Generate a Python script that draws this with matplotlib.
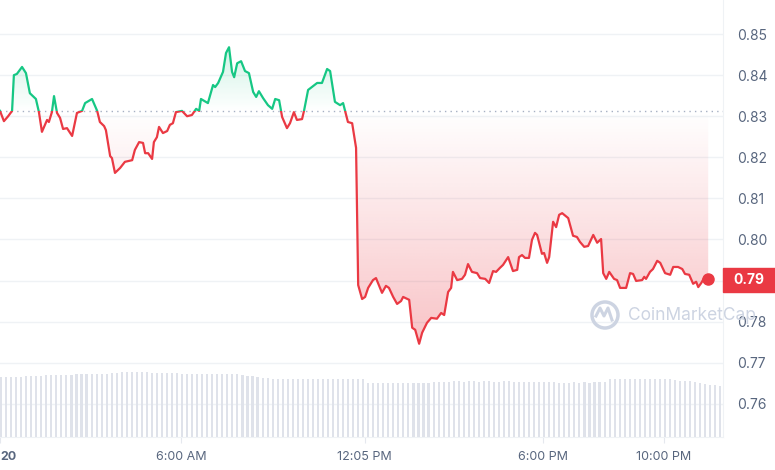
import matplotlib.pyplot as plt
import numpy as np
from matplotlib.patches import Rectangle, Circle
from matplotlib.path import Path

plt.rcParams['font.family'] = ['Inter', 'DejaVu Sans']

# Price trace (hour of day, price in USD)
hours = [0.00, 0.13, 0.27, 0.40, 0.46, 0.56, 0.73, 0.86, 0.99, 1.19, 1.29, 1.39, 1.56, 1.62,
         1.72, 1.79, 1.89, 1.99, 2.09, 2.22, 2.39, 2.55, 2.72, 2.82, 3.05, 3.22, 3.31, 3.45,
         3.51, 3.65, 3.71, 3.81, 3.98, 4.14, 4.38, 4.47, 4.61, 4.74, 4.81, 4.91, 5.04, 5.10,
         5.20, 5.27, 5.40, 5.54, 5.63, 5.73, 5.83, 6.03, 6.20, 6.36, 6.50, 6.60, 6.66, 6.89,
         7.06, 7.13, 7.23, 7.39, 7.49, 7.59, 7.69, 7.76, 7.86, 7.99, 8.12, 8.25, 8.39, 8.49,
         8.58, 8.72, 8.88, 9.02, 9.12, 9.25, 9.35, 9.51, 9.61, 9.74, 9.84, 10.01, 10.08, 10.21,
         10.37, 10.51, 10.67, 10.84, 10.94, 11.10, 11.27, 11.37, 11.53, 11.67, 11.80, 11.87,
         12.00, 12.10, 12.20, 12.36, 12.46, 12.66, 12.79, 12.89, 13.03, 13.16, 13.29, 13.36,
         13.56, 13.66, 13.76, 13.89, 13.99, 14.15, 14.29, 14.48, 14.62, 14.72, 14.85, 14.95,
         15.01, 15.15, 15.31, 15.41, 15.51, 15.64, 15.81, 15.91, 16.08, 16.21, 16.34, 16.44,
         16.57, 16.67, 16.84, 17.00, 17.14, 17.20, 17.30, 17.40, 17.53, 17.63, 17.73, 17.80,
         17.96, 18.03, 18.13, 18.20, 18.33, 18.43, 18.53, 18.63, 18.83, 18.99, 19.12, 19.22,
         19.36, 19.49, 19.66, 19.79, 19.92, 19.99, 20.09, 20.19, 20.35, 20.45, 20.55, 20.75,
         20.88, 20.98, 21.08, 21.28, 21.35, 21.41, 21.54, 21.64, 21.78, 21.88, 22.04, 22.21,
         22.31, 22.47, 22.61, 22.70, 22.84, 22.97, 23.07, 23.14, 23.24, 23.33, 23.47]
prices = [0.8313, 0.8288, 0.8300, 0.8313, 0.8400, 0.8403, 0.8420, 0.8405, 0.8356, 0.8342, 0.8310,
          0.8262, 0.8291, 0.8286, 0.8310, 0.8349, 0.8308, 0.8296, 0.8269, 0.8271, 0.8252, 0.8308,
          0.8313, 0.8332, 0.8342, 0.8313, 0.8286, 0.8276, 0.8266, 0.8203, 0.8198, 0.8162, 0.8174,
          0.8189, 0.8193, 0.8218, 0.8237, 0.8235, 0.8210, 0.8210, 0.8196, 0.8237, 0.8249, 0.8274,
          0.8259, 0.8264, 0.8279, 0.8283, 0.8310, 0.8313, 0.8300, 0.8303, 0.8318, 0.8313, 0.8342,
          0.8332, 0.8376, 0.8371, 0.8381, 0.8408, 0.8454, 0.8468, 0.8408, 0.8395, 0.8429, 0.8434,
          0.8410, 0.8405, 0.8359, 0.8347, 0.8361, 0.8344, 0.8327, 0.8318, 0.8342, 0.8339, 0.8298,
          0.8271, 0.8283, 0.8310, 0.8291, 0.8293, 0.8315, 0.8364, 0.8373, 0.8381, 0.8381, 0.8415,
          0.8410, 0.8335, 0.8327, 0.8332, 0.8286, 0.8283, 0.8223, 0.7889, 0.7855, 0.7860, 0.7882,
          0.7901, 0.7906, 0.7870, 0.7887, 0.7882, 0.7860, 0.7843, 0.7850, 0.7860, 0.7853, 0.7785,
          0.7780, 0.7746, 0.7773, 0.7797, 0.7809, 0.7807, 0.7821, 0.7816, 0.7872, 0.7882, 0.7921,
          0.7901, 0.7904, 0.7914, 0.7940, 0.7921, 0.7918, 0.7906, 0.7904, 0.7894, 0.7923, 0.7921,
          0.7931, 0.7938, 0.7957, 0.7923, 0.7926, 0.7957, 0.7962, 0.7955, 0.7955, 0.7999, 0.8016,
          0.8011, 0.7965, 0.7967, 0.7943, 0.7957, 0.8043, 0.8030, 0.8060, 0.8064, 0.8052, 0.8009,
          0.8006, 0.7994, 0.7982, 0.7984, 0.8011, 0.7992, 0.8001, 0.7918, 0.7904, 0.7921, 0.7904,
          0.7901, 0.7882, 0.7882, 0.7918, 0.7916, 0.7899, 0.7901, 0.7909, 0.7904, 0.7921, 0.7928,
          0.7948, 0.7943, 0.7918, 0.7914, 0.7933, 0.7933, 0.7928, 0.7916, 0.7914, 0.7892, 0.7897,
          0.7884, 0.7894, 0.7906, 0.7904]
open_price = 0.8313

# Volume, one bar every 10 minutes (millions)
volume = [121, 121, 121, 121, 121, 123, 123, 123, 123, 125, 125, 125, 125, 125, 125,
          127, 127, 127, 127, 127, 127, 127, 129, 129, 130, 130, 130, 130, 130, 130,
          129, 129, 129, 129, 129, 129, 126, 126, 126, 126, 126, 126, 126, 126, 126,
          126, 126, 126, 124, 123, 122, 120, 119, 118, 117, 117, 116, 116, 116, 116,
          116, 116, 116, 116, 116, 116, 116, 116, 116, 116, 116, 116, 116, 108, 108,
          108, 108, 108, 108, 108, 108, 108, 108, 108, 109, 109, 110, 110, 110, 110,
          112, 112, 111, 112, 112, 111, 112, 112, 111, 111, 112, 112, 110, 110, 110,
          110, 110, 110, 110, 110, 110, 109, 108, 109, 110, 109, 110, 109, 110, 110,
          111, 116, 116, 116, 116, 116, 116, 116, 116, 116, 116, 116, 116, 116, 114,
          113, 113, 112, 110, 108, 106, 105, 104, 103]
vol_hours = np.arange(len(volume)) / 6.0

y_ticks = [0.76, 0.77, 0.78, 0.79, 0.80, 0.81, 0.82, 0.83, 0.84, 0.85]
x_ticks = [0, 6, 12.083, 18, 22]
x_labels = ['20', '6:00 AM', '12:05 PM', '6:00 PM', '10:00 PM']
last_label = '0.79'

GREEN = '#16c784'
RED = '#ea3943'
GRAY = '#58667e'

fig = plt.figure(figsize=(7.75, 4.70), dpi=100, facecolor='white')
ax = fig.add_axes([0, 33 / 470, 723 / 775, 437 / 470])
ax.set_facecolor('white')
x_max = 23.96
y_lo, y_hi = 0.7519, 0.8583
ax.set_xlim(0, x_max)
ax.set_ylim(y_lo, y_hi)

# grid
for v in y_ticks:
    ax.axhline(v, color='#eff2f5', lw=1, zorder=0)

# volume bars on a twin axis
axv = ax.twinx()
axv.bar(vol_hours, volume, width=0.07, align='edge', color='#dfe2ea', zorder=1)
axv.set_ylim(0, 880)
axv.set_axis_off()

h = np.array(hours)
p = np.array(prices)

# gradient fill between line and open price
rows = np.linspace(y_lo, y_hi, 500)
img = np.zeros((500, 2, 4))
g = np.array([22, 199, 132]) / 255
r = np.array([234, 57, 67]) / 255
for i, v in enumerate(rows):
    if v >= open_price:
        a = 0.22 * min(1, (v - open_price) / (0.848 - open_price))
        img[i, :, :3] = g
    else:
        a = 0.30 * min(1, (open_price - v) / (open_price - 0.775))
        img[i, :, :3] = r
    img[i, :, 3] = a
fb = ax.fill_between(h, p, open_price, interpolate=True, color='none', lw=0)
clip = Path.make_compound_path(*fb.get_paths())
im = ax.imshow(img, extent=[0, x_max, y_lo, y_hi], origin='lower', aspect='auto',
               interpolation='bilinear', zorder=2)
im.set_clip_path(clip, ax.transData)

# open price dotted line
ax.axhline(open_price, color='#a6b0c3', lw=1, ls=(0, (1, 3)), zorder=3)

# price line, green above open and red below
up = Rectangle((0, open_price), x_max, 1, transform=ax.transData)
down = Rectangle((0, 0), x_max, open_price, transform=ax.transData)
l1, = ax.plot(h, p, color=GREEN, lw=1.6, zorder=4, solid_joinstyle='round')
l1.set_clip_path(up)
l2, = ax.plot(h, p, color=RED, lw=1.6, zorder=4, solid_joinstyle='round')
l2.set_clip_path(down)
ax.plot(h[-1], p[-1], 'o', color=RED, ms=8, zorder=5, clip_on=False)

# axes styling
for s in ['top', 'left']:
    ax.spines[s].set_visible(False)
ax.spines['right'].set_color('#eff2f5')
ax.spines['bottom'].set_color('#eff2f5')
ax.yaxis.tick_right()
ax.set_yticks(y_ticks)
ax.set_yticklabels(['' if f'{v:.2f}' == last_label else f'{v:.2f}' for v in y_ticks])
ax.tick_params(axis='y', length=0, pad=10, labelsize=10, labelcolor=GRAY)
ax.set_xticks(x_ticks)
ax.set_xticklabels(x_labels)
ax.tick_params(axis='x', length=4, color='#e5e8ee', pad=6, labelsize=9, labelcolor=GRAY)
first = ax.get_xticklabels()[0]
first.set_ha('left')
first.set_fontweight('bold')

# last price badge
fig.patches.append(Rectangle((723 / 775, (470 - 292) / 470), 52 / 775, 24 / 470,
                             transform=fig.transFigure, color=RED, zorder=10))
fig.text(733 / 775, (470 - 280) / 470, last_label, color='white', fontsize=10,
         va='center', ha='left', fontweight='bold', zorder=11)

# watermark
wm = '#cdd4e2'
fig.patches.append(Circle((605 / 775, (470 - 315) / 470), 0.0, transform=fig.transFigure))
fig.add_artist(plt.Circle((605, 470 - 315), 13, transform=None, fill=False,
                          ec=wm, lw=2.5, zorder=6))
fig.add_artist(plt.Line2D([596, 600, 604, 608, 612], [155 - 1, 162, 154, 162, 150],
                          transform=None, color=wm, lw=2.2, zorder=6))
fig.text(628 / 775, (470 - 315) / 470, 'CoinMarketCap', color=wm, fontsize=12.5,
         va='center', ha='left', zorder=6)

fig.savefig('out.png', dpi=100, facecolor='white')
